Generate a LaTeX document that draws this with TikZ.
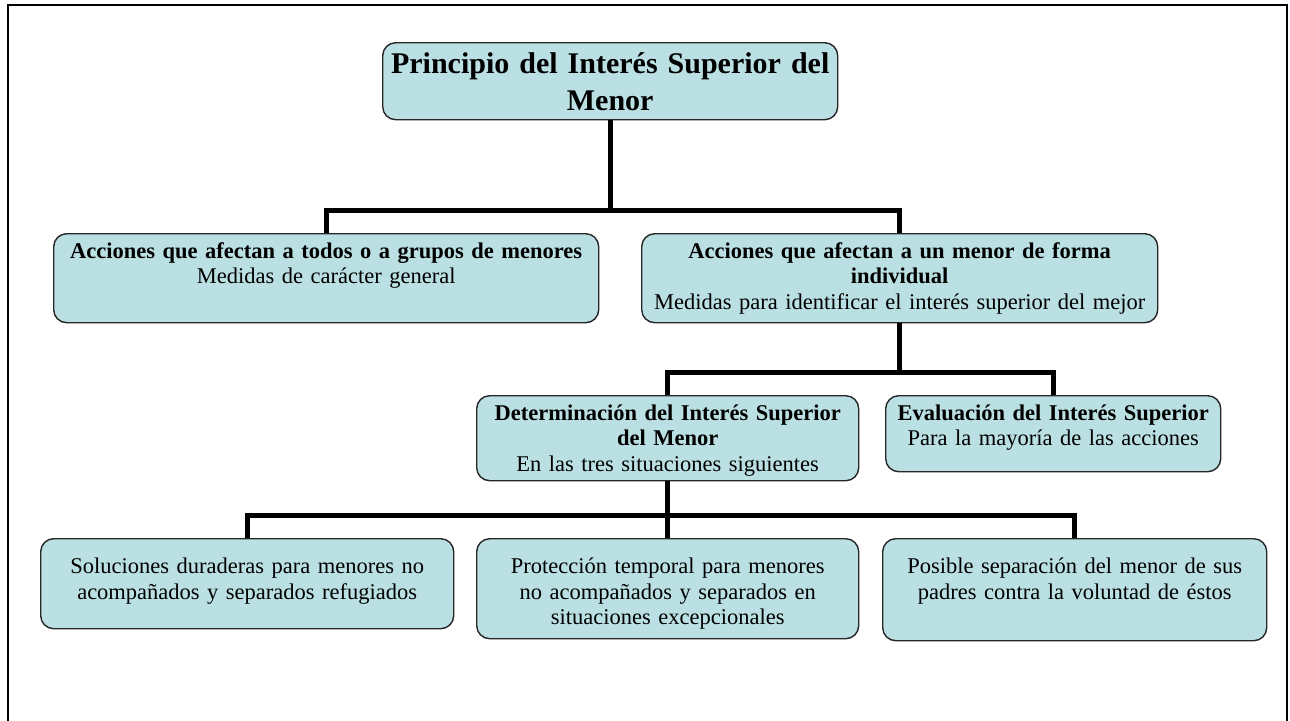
\documentclass[tikz,border=0pt]{standalone}
\usepackage{fontspec}
\setmainfont{Liberation Serif}
\usepackage{xcolor}
\definecolor{cajafondo}{RGB}{187,224,227}

\begin{document}
\begin{tikzpicture}[x=1pt, y=-1pt,
    caja/.style={draw=black!85, line width=1.4pt, fill=cajafondo, rounded corners=13pt,
      anchor=north west, align=center, inner xsep=4pt, inner ysep=8pt, text height=16.5pt,
      font=\fontsize{22.5}{25.5}\selectfont},
    abajo/.style={caja, text height=27pt},
    rama/.style={line width=5pt, line join=miter}]
  \useasboundingbox (0,0) rectangle (1290,720);
  \draw[line width=2pt] (8,5) rectangle (1287,730);

  \node[caja, text width=447pt, text height=22pt, text depth=37pt, inner ysep=9pt,
    font=\fontsize{30}{37}\selectfont\bfseries] (principio) at (382,42)
    {Principio del Interés Superior del\\Menor};
  \node[caja, text width=537pt, text depth=56.5pt] (grupos) at (53,233)
    {\textbf{Acciones que afectan a todos o a grupos de menores}\\Medidas de carácter general};
  \node[caja, text width=508pt, text depth=56.5pt] (individual) at (641,233)
    {\textbf{Acciones que afectan a un menor de forma}\\\textbf{individual}\\Medidas para identificar el interés superior del mejor};
  \node[caja, text width=374pt, text depth=52.5pt] (determinacion) at (476,395)
    {\textbf{Determinación del Interés Superior}\\\textbf{del Menor}\\En las tres situaciones siguientes};
  \node[caja, text width=327pt, text depth=43.5pt] (evaluacion) at (885,395)
    {\textbf{Evaluación del Interés Superior}\\Para la mayoría de las acciones};
  \node[abajo, text width=405pt, text depth=47pt] (duraderas) at (40,538)
    {Soluciones duraderas para menores no\\acompañados y separados refugiados};
  \node[abajo, text width=374pt, text depth=57pt] (temporal) at (476,538)
    {Protección temporal para menores\\no acompañados y separados en\\situaciones excepcionales};
  \node[abajo, text width=376pt, text depth=59pt] (separacion) at (882,538)
    {Posible separación del menor de sus\\padres contra la voluntad de éstos};

  \coordinate (bus1) at (0,210);
  \coordinate (bus2) at (0,372);
  \coordinate (bus3) at (0,515);

  \draw[rama] (principio.south) -- (principio.south |- bus1);
  \draw[rama] (grupos.north) |- (principio.south |- bus1) -| (individual.north);
  \draw[rama] (individual.south) -- (individual.south |- bus2);
  \draw[rama] (determinacion.north) |- (individual.south |- bus2) -| (evaluacion.north);
  \draw[rama] (determinacion.south) -- (temporal.north);
  \draw[rama] (duraderas.north) |- (determinacion.south |- bus3) -| (separacion.north);
\end{tikzpicture}
\end{document}
